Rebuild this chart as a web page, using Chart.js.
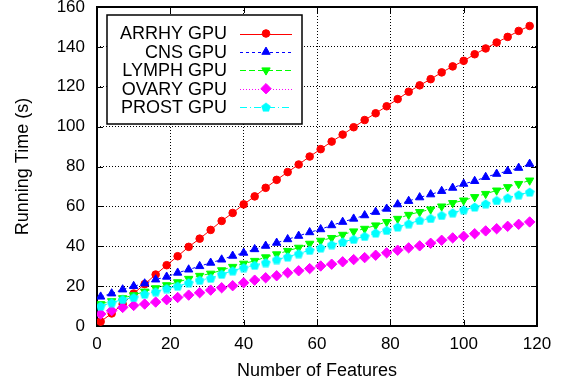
<!DOCTYPE html>
<html>
<head>
<meta charset="utf-8">
<script src="https://cdn.jsdelivr.net/npm/chart.js@4.4.0/dist/chart.umd.min.js"></script>
<style>
html, body { margin: 0; padding: 0; background: #fff; }
</style>
</head>
<body>
<canvas id="chartCanvas" width="566" height="387"></canvas>
<script>
// values
var features = [1, 4, 7, 10, 13, 16, 19, 22, 25, 28, 31, 34, 37, 40, 43, 46, 49, 52, 55, 58,
                61, 64, 67, 70, 73, 76, 79, 82, 85, 88, 91, 94, 97, 100, 103, 106, 109, 112, 115, 118];

var arrhyGpu = [2.2, 6.3, 11, 16.3, 21, 25.8, 30.5, 35, 39.7, 43.8, 48.2, 52.7, 56.7, 61, 65, 69.3, 73.3, 77.2, 81, 85,
                88.7, 92.5, 96, 99.7, 103.3, 106.7, 110.2, 113.8, 117.5, 120.7, 123.8, 127.2, 130.2, 133, 136.3, 139.2, 142.2, 145, 148, 150.5];
var cnsGpu = [14.7, 16.3, 18.3, 20, 21.3, 23.3, 24.7, 26.7, 28.3, 30, 31.7, 33.3, 35.2, 36.7, 38.5, 40.2, 41.7, 43.5, 45.2, 47,
              48.5, 50.5, 52.2, 53.8, 55.5, 57.2, 58.8, 61, 62.7, 64.5, 66, 67.7, 69.3, 71.3, 72.7, 74.7, 76.3, 77.7, 79.3, 81.3];
var lymphGpu = [11, 12.5, 14, 15.5, 17.3, 19, 20.5, 22, 23.7, 25.2, 26.3, 28, 29.7, 31.3, 32.7, 34.5, 36, 37.7, 39.3, 41.3,
                42.8, 44.2, 45.8, 47.5, 48.8, 50.5, 52.2, 53.8, 55.8, 57.2, 58.5, 60, 61.7, 63, 64.7, 66.3, 68, 69.7, 71.3, 73];
var ovaryGpu = [6, 7.7, 9.3, 10.3, 11, 12, 13.2, 14.3, 15.5, 16.7, 18, 19.2, 20.2, 21.7, 23, 24.2, 25.2, 26.7, 27.7, 28.8,
                30.1, 31, 32.2, 33.3, 34.3, 35.5, 36.7, 38, 39.2, 40.2, 41.5, 43, 44.2, 45, 46.3, 47.7, 48.8, 50, 51, 52.2];
var prostGpu = [10, 11.7, 13.3, 14.3, 16, 17.2, 18.8, 20, 21.7, 23, 24, 26, 27.7, 29.3, 30.5, 31.8, 33.3, 34.7, 36.3, 38,
                39.2, 40.8, 42.2, 43.5, 45, 46.7, 48, 49.7, 51.3, 53, 54, 55.5, 56.8, 58.3, 59.7, 61.3, 63, 64.3, 65.8, 67.2];

var seriesNames = ['ARRHY GPU', 'CNS GPU', 'LYMPH GPU', 'OVARY GPU', 'PROST GPU'];
var xTicks = [0, 20, 40, 60, 80, 100, 120];
var yTicks = [0, 20, 40, 60, 80, 100, 120, 140, 160];

var FONT = '"Liberation Sans", Arial, Helvetica, sans-serif';

// gnuplot style pentagon marker
function makePentagon(color, size) {
    var c = document.createElement('canvas');
    c.width = size;
    c.height = size;
    var g = c.getContext('2d');
    var r = size / 2;
    g.beginPath();
    for (var i = 0; i < 5; i++) {
        var a = -Math.PI / 2 + i * 2 * Math.PI / 5;
        var px = r + Math.cos(a) * r;
        var py = r + 0.5 + Math.sin(a) * r;
        if (i === 0) g.moveTo(px, py); else g.lineTo(px, py);
    }
    g.closePath();
    g.fillStyle = color;
    g.fill();
    return c;
}

function toPoints(values) {
    return values.map(function(v, i) { return {x: features[i], y: v}; });
}

function makeSet(name, values, color, dash, style, radius, rotation, order) {
    return {
        label: name,
        data: toPoints(values),
        borderColor: color,
        backgroundColor: color,
        borderWidth: 1,
        borderDash: dash,
        pointStyle: style,
        pointRadius: radius,
        pointRotation: rotation,
        pointBorderWidth: 1,
        pointBorderColor: color,
        pointBackgroundColor: color,
        tension: 0,
        fill: false,
        order: order
    };
}

var datasets = [
    makeSet(seriesNames[0], arrhyGpu, '#ff0000', [], 'circle', 3.8, 0, 4),
    makeSet(seriesNames[1], cnsGpu, '#0000ff', [3, 3], 'triangle', 4.8, 0, 3),
    makeSet(seriesNames[2], lymphGpu, '#00ff00', [6, 3], 'triangle', 4.8, 180, 2),
    makeSet(seriesNames[3], ovaryGpu, '#ff00ff', [1, 2], 'rectRot', 5.2, 0, 1),
    makeSet(seriesNames[4], prostGpu, '#00ffff', [7, 3, 1, 3], makePentagon('#00ffff', 10), 5, 0, 0)
];

// solid frame plus inward mirror ticks, like gnuplot
var framePlugin = {
    id: 'frame',
    beforeDatasetsDraw: function(chart) {
        var ctx = chart.ctx;
        var a = chart.chartArea;
        var xs = chart.scales.x, ys = chart.scales.y;
        ctx.save();
        ctx.strokeStyle = '#000';
        ctx.lineWidth = 1;
        ctx.beginPath();
        xTicks.slice(1, -1).forEach(function(t) {
            var px = Math.round(xs.getPixelForValue(t)) + 0.5;
            ctx.moveTo(px, a.bottom); ctx.lineTo(px, a.bottom - 6);
            ctx.moveTo(px, a.top); ctx.lineTo(px, a.top + 6);
        });
        yTicks.slice(1, -1).forEach(function(t) {
            var py = Math.round(ys.getPixelForValue(t)) + 0.5;
            ctx.moveTo(a.left, py); ctx.lineTo(a.left + 6, py);
            ctx.moveTo(a.right, py); ctx.lineTo(a.right - 6, py);
        });
        ctx.stroke();
        ctx.lineWidth = 2;
        ctx.strokeRect(a.left, a.top, a.right - a.left, a.bottom - a.top);
        ctx.restore();
    }
};

// boxed key, text right aligned with the sample to its right
var keyPlugin = {
    id: 'key',
    afterDatasetsDraw: function(chart) {
        var ctx = chart.ctx;
        var box = {left: 107, top: 15, right: 302, bottom: 124};
        ctx.save();
        ctx.fillStyle = '#fff';
        ctx.fillRect(box.left, box.top, box.right - box.left, box.bottom - box.top);
        ctx.strokeStyle = '#000';
        ctx.lineWidth = 1.5;
        ctx.strokeRect(box.left, box.top, box.right - box.left, box.bottom - box.top);
        chart.data.datasets.forEach(function(ds, i) {
            var y = 33.5 + i * 18.4;
            ctx.fillStyle = '#000';
            ctx.font = '18px ' + FONT;
            ctx.textAlign = 'right';
            ctx.textBaseline = 'middle';
            ctx.fillText(ds.label, 227, y + 1);
            ctx.strokeStyle = ds.borderColor;
            ctx.lineWidth = 1;
            ctx.setLineDash(ds.borderDash);
            ctx.beginPath();
            ctx.moveTo(240, Math.round(y) + 0.5);
            ctx.lineTo(292, Math.round(y) + 0.5);
            ctx.stroke();
            ctx.setLineDash([]);
            ctx.fillStyle = ds.pointBackgroundColor;
            ctx.strokeStyle = ds.pointBorderColor;
            Chart.helpers.drawPoint(ctx, {
                pointStyle: ds.pointStyle,
                radius: ds.pointRadius,
                rotation: ds.pointRotation,
                borderWidth: 1
            }, 266, y);
        });
        ctx.restore();
    }
};

var ctx = document.getElementById('chartCanvas');

var myChart = new Chart(ctx, {
    type: 'line',
    data: { datasets: datasets },
    options: {
        responsive: false,
        animation: false,
        devicePixelRatio: 1,
        layout: { padding: { top: 7, right: 29, left: 0, bottom: 0 } },
        scales: {
            x: {
                type: 'linear',
                min: 0,
                max: 120,
                ticks: { stepSize: 20, padding: 8, color: '#000', font: { family: FONT, size: 17 } },
                grid: { color: '#000', lineWidth: 1, drawTicks: false },
                border: { display: false, dash: [1, 2] },
                title: { display: true, text: 'Number of Features', color: '#000',
                         font: { family: FONT, size: 18 }, padding: { top: 0, bottom: 5 } },
                afterFit: function(s) { s.height = 61; s.paddingLeft = 0; s.paddingRight = 0; }
            },
            y: {
                min: 0,
                max: 160,
                ticks: { stepSize: 20, padding: 12, color: '#000', font: { family: FONT, size: 17 } },
                grid: { color: '#000', lineWidth: 1, drawTicks: false },
                border: { display: false, dash: [1, 2] },
                title: { display: true, text: 'Running Time (s)', color: '#000',
                         font: { family: FONT, size: 18 }, padding: { top: 12, bottom: 0 } },
                afterFit: function(s) { s.width = 97; s.paddingTop = 0; s.paddingBottom = 0; }
            }
        },
        plugins: {
            legend: { display: false },
            tooltip: { enabled: false }
        }
    },
    plugins: [framePlugin, keyPlugin]
});
</script>
</body>
</html>
